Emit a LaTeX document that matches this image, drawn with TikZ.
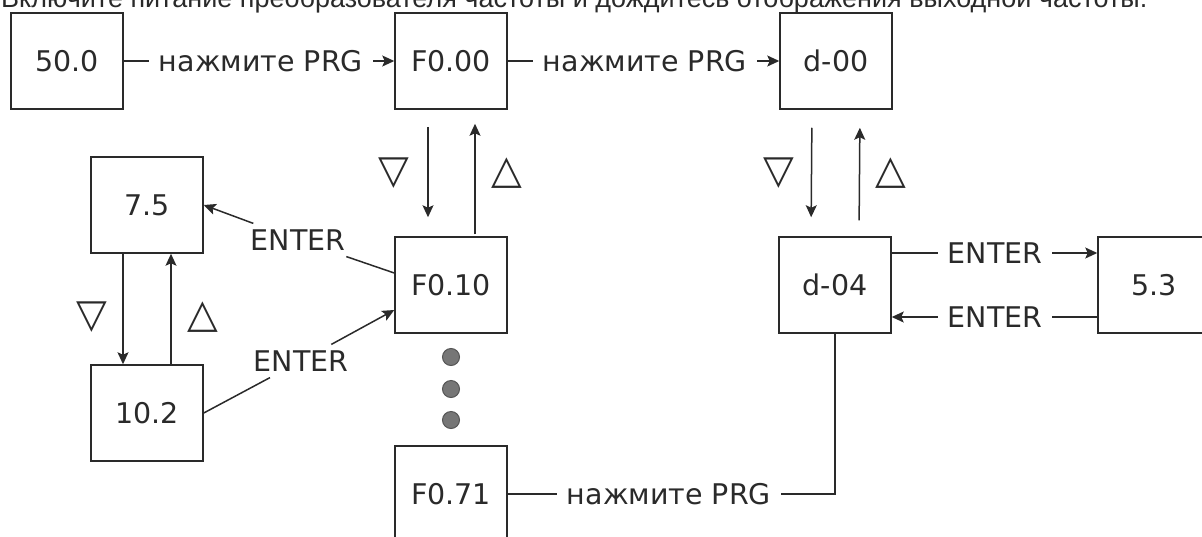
\documentclass[tikz,border=0pt]{standalone}
\usepackage{graphicx}
\usepackage{fontspec}
\setmainfont{DejaVu Sans}
\newfontfamily\titlefont{Liberation Sans}
\usetikzlibrary{arrows.meta}
\definecolor{ink}{HTML}{2A2A2A}
\definecolor{dotfill}{HTML}{767676}
\begin{document}
\begin{tikzpicture}[x=1pt,y=-1pt,
  box/.style={draw=ink, line width=1.5pt, minimum width=112pt, minimum height=96pt, inner sep=0pt, font=\fontsize{28.5}{31}\selectfont, text=ink},
  lbl/.style={font=\fontsize{28.5}{31}\selectfont, text=ink, inner xsep=10pt, inner ysep=6pt},
  conn/.style={draw=ink, line width=1.5pt},
  arr/.style={conn, -{Stealth[length=12pt,width=11pt,inset=2.5pt]}},
  tri/.style={font=\fontsize{40}{40}\selectfont, text=ink, inner sep=0pt},
  dotc/.style={circle, draw=ink!80, fill=dotfill, minimum size=17pt, inner sep=0pt, line width=1pt}]
\useasboundingbox (0,0) rectangle (1202,536);

\node[anchor=base west, inner sep=0pt, text=ink] (title) at (1,7)
  {\resizebox{1146pt}{!}{\titlefont\fontsize{20}{24}\selectfont Включите питание преобразователя частоты и дождитесь отображения выходной частоты.}};

\node[box] (b500) at (67,61) {50.0};
\node[box] (f000) at (451,61) {F0.00};
\node[box] (d00) at (836,61) {d-00};
\node[box] (s75) at (147,205) {7.5};
\node[box] (f010) at (451,285) {F0.10};
\node[box] (d04) at (835,285) {d-04};
\node[box] (s53) at (1154,285) {5.3};
\node[box] (s102) at (147,413) {10.2};
\node[box] (f071) at (451,494) {F0.71};

\node[lbl] (p1) at (261,61) {нажмите PRG};
\node[lbl] (p2) at (645,61) {нажмите PRG};
\node[lbl] (p3) at (669,494) {нажмите PRG};
\node[lbl] (e1) at (298,240) {ENTER};
\node[lbl] (e2) at (301,361) {ENTER};
\node[lbl] (e3) at (995,253) {ENTER};
\node[lbl] (e4) at (995,317) {ENTER};

\node[tri] (t1) at (394,173) {▽};
\node[tri] (t2) at (507,173) {△};
\node[tri] (t3) at (779,173) {▽};
\node[tri] (t4) at (891,173) {△};
\node[tri] (t5) at (92,317) {▽};
\node[tri] (t6) at (203,317) {△};

\node[dotc] (c1) at (451,357) {};
\node[dotc] (c2) at (451,389) {};
\node[dotc] (c3) at (451,420) {};

\draw[conn] (b500) -- (p1);
\draw[arr] (p1) -- (f000);
\draw[conn] (f000) -- (p2);
\draw[arr] (p2) -- (d00);

\draw[arr, shorten <=17pt, shorten >=19pt] ([xshift=-23pt]f000.south) -- ([xshift=-23pt]f010.north);
\draw[arr, shorten <=2pt, shorten >=14pt] ([xshift=24pt]f010.north) -- ([xshift=24pt]f000.south);

\draw[arr, shorten <=18pt, shorten >=19pt] ([xshift=-24pt]d00.south) -- ([xshift=-24pt]d04.north);
\draw[arr, shorten <=16pt, shorten >=18pt] ([xshift=24pt]d04.north) -- ([xshift=24pt]d00.south);

\draw[arr] ([xshift=-24pt]s75.south) -- ([xshift=-24pt]s102.north);
\draw[arr] ([xshift=24pt]s102.north) -- ([xshift=24pt]s75.south);

\draw[conn] ([yshift=12pt]f010.west) -- (e1);
\draw[arr] (e1) -- (s75.east);
\draw[conn] (s102.east) -- (e2);
\draw[arr] (e2) -- ([yshift=-25pt]f010.west);

\draw[conn] ([yshift=32pt]d04.east) -- (e3);
\draw[arr] (e3) -- (e3 -| s53.west);
\draw[conn] ([yshift=-32pt]s53.west) -- (e4);
\draw[arr] (e4) -- (e4 -| d04.east);

\draw[conn] (f071) -- (p3);
\draw[conn] (p3) -- (p3 -| d04.south) -- (d04.south);
\end{tikzpicture}
\end{document}
